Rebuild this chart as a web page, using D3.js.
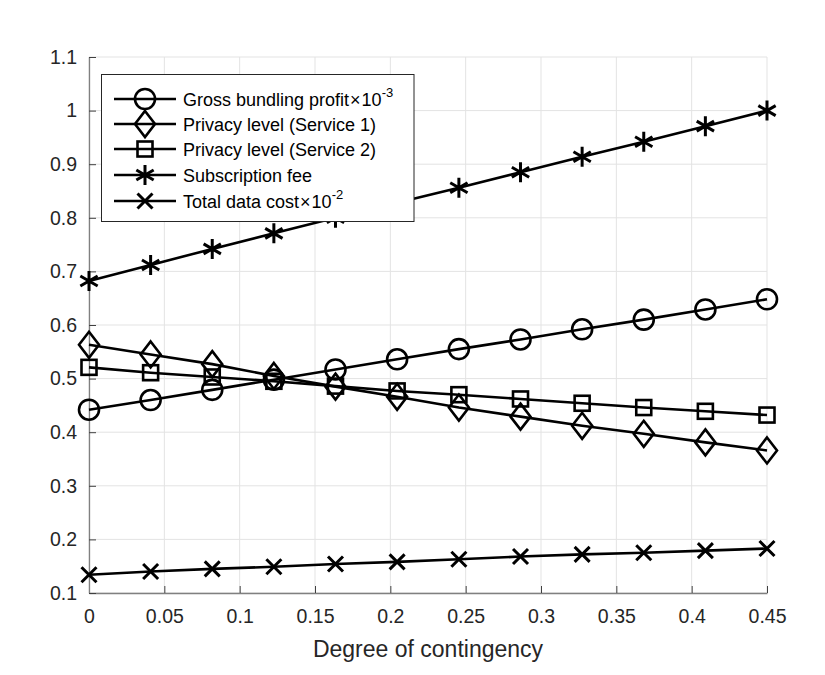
<!DOCTYPE html>
<html><head><meta charset="utf-8">
<script src="https://cdn.jsdelivr.net/npm/d3@7"></script>
<style>body{margin:0;background:#fff;} svg{display:block;font-family:"Liberation Sans",Arial,Helvetica,sans-serif;}</style>
</head><body>
<div id="chart"></div>
<script>
const xValues = [0, 0.0409, 0.0818, 0.1227, 0.1636, 0.2045, 0.2455, 0.2864, 0.3273, 0.3682, 0.4091, 0.45];
const grossProfit = [0.442, 0.460, 0.479, 0.498, 0.517, 0.536, 0.555, 0.573, 0.592, 0.610, 0.629, 0.648];
const privacy1 = [0.563, 0.545, 0.527, 0.505, 0.485, 0.466, 0.446, 0.429, 0.412, 0.397, 0.381, 0.366];
const privacy2 = [0.521, 0.511, 0.503, 0.495, 0.486, 0.477, 0.470, 0.462, 0.454, 0.446, 0.439, 0.432];
const subscriptionFee = [0.682, 0.712, 0.742, 0.771, 0.800, 0.828, 0.856, 0.885, 0.914, 0.942, 0.971, 1.0];
const totalDataCost = [0.134, 0.140, 0.145, 0.149, 0.154, 0.158, 0.163, 0.168, 0.172, 0.175, 0.179, 0.183];
const xTicks = [0, 0.05, 0.1, 0.15, 0.2, 0.25, 0.3, 0.35, 0.4, 0.45];
const yTicks = [0.1, 0.2, 0.3, 0.4, 0.5, 0.6, 0.7, 0.8, 0.9, 1.0, 1.1];
const seriesNames = ["Gross bundling profit", "Privacy level (Service 1)", "Privacy level (Service 2)", "Subscription fee", "Total data cost"];
const seriesExp = ["-3", null, null, null, "-2"];
const seriesMarkers = ["circle", "diamond", "square", "asterisk", "cross"];
const xLabel = "Degree of contingency";

const W = 825, H = 675;
const m = {left: 89, right: 825 - 767, top: 57, bottom: 675 - 593};
const svg = d3.select("#chart").append("svg").attr("width", W).attr("height", H);
const x = d3.scaleLinear().domain([0, 0.45]).range([m.left, W - m.right]);
const y = d3.scaleLinear().domain([0.1, 1.1]).range([H - m.bottom, m.top]);

// grid
const g = svg.append("g");
g.selectAll("line.vg").data(xTicks).join("line")
  .attr("x1", d => x(d)).attr("x2", d => x(d)).attr("y1", y(0.1)).attr("y2", y(1.1))
  .attr("stroke", "#e3e3e3").attr("stroke-width", 1);
g.selectAll("line.hg").data(yTicks).join("line")
  .attr("y1", d => y(d)).attr("y2", d => y(d)).attr("x1", x(0)).attr("x2", x(0.45))
  .attr("stroke", "#e3e3e3").attr("stroke-width", 1);

// axes
const fmt = d => d3.format("")(+d.toFixed(2));
const xAxis = svg.append("g").attr("transform", `translate(0,${y(0.1)})`)
  .call(d3.axisBottom(x).tickValues(xTicks).tickSizeInner(-7).tickSizeOuter(0).tickPadding(16).tickFormat(fmt));
const yAxis = svg.append("g").attr("transform", `translate(${x(0)},0)`)
  .call(d3.axisLeft(y).tickValues(yTicks).tickSizeInner(-7).tickSizeOuter(0).tickPadding(12).tickFormat(fmt));
[xAxis, yAxis].forEach(a => {
  a.attr("font-size", null).attr("font-family", null);
  a.select(".domain").attr("stroke", "#808080").attr("stroke-width", 1.3);
  a.selectAll(".tick line").attr("stroke", "#404040").attr("stroke-width", 1);
  a.selectAll(".tick text").attr("fill", "#262626").style("font-size", "19.5px")
   .style("font-family", '"Liberation Sans",Arial,sans-serif');
});

svg.append("text").attr("x", (x(0) + x(0.45)) / 2).attr("y", 657)
  .attr("text-anchor", "middle").attr("fill", "#262626").style("font-size", "23px").text(xLabel);

// markers
function drawMarker(sel, type) {
  const sw = 2.6;
  if (type === "circle") sel.append("circle").attr("r", 10).attr("fill", "none").attr("stroke", "#000").attr("stroke-width", sw);
  else if (type === "diamond") sel.append("path").attr("d", "M0,-13L10,0L0,13L-10,0Z").attr("fill", "none").attr("stroke", "#000").attr("stroke-width", sw);
  else if (type === "square") sel.append("rect").attr("x", -7.5).attr("y", -7.5).attr("width", 15).attr("height", 15).attr("fill", "none").attr("stroke", "#000").attr("stroke-width", sw);
  else if (type === "asterisk") {
    const r = 10, p = [];
    p.push("M0,-" + r + "L0," + r);
    p.push(`M${-r*0.866},${-r*0.5}L${r*0.866},${r*0.5}`);
    p.push(`M${-r*0.866},${r*0.5}L${r*0.866},${-r*0.5}`);
    sel.append("path").attr("d", p.join("")).attr("stroke", "#000").attr("stroke-width", 3).attr("fill", "none");
  } else if (type === "cross") {
    const r = 7.5;
    sel.append("path").attr("d", `M${-r},${-r}L${r},${r}M${-r},${r}L${r},${-r}`).attr("stroke", "#000").attr("stroke-width", 3).attr("fill", "none");
  }
}

const allSeries = [grossProfit, privacy1, privacy2, subscriptionFee, totalDataCost];
const line = d3.line().x((d, i) => x(xValues[i])).y(d => y(d));
allSeries.forEach((vals, si) => {
  const sg = svg.append("g");
  sg.append("path").datum(vals).attr("d", line).attr("fill", "none").attr("stroke", "#000").attr("stroke-width", 2.6);
  vals.forEach((v, i) => {
    const mg = sg.append("g").attr("transform", `translate(${x(xValues[i])},${y(v)})`);
    drawMarker(mg, seriesMarkers[si]);
  });
});

// legend
const lg = svg.append("g");
lg.append("rect").attr("x", 101.5).attr("y", 74.5).attr("width", 312.5).attr("height", 147)
  .attr("fill", "#fff").attr("stroke", "#262626").attr("stroke-width", 1);
const rowY = [99, 124, 149, 175, 201];
seriesNames.forEach((name, i) => {
  const ry = rowY[i];
  lg.append("line").attr("x1", 114).attr("x2", 176).attr("y1", ry).attr("y2", ry).attr("stroke", "#000").attr("stroke-width", 2.6);
  drawMarker(lg.append("g").attr("transform", `translate(145,${ry})`), seriesMarkers[i]);
  const t = lg.append("text").attr("x", 183).attr("y", ry + 6.5).attr("fill", "#000").style("font-size", "18px");
  t.append("tspan").text(name);
  if (seriesExp[i]) {
    t.append("tspan").attr("dx", 1).text("\u00d7");
    t.append("tspan").attr("dx", 1).text("10");
    t.append("tspan").attr("dy", -9).style("font-size", "13px").text(seriesExp[i]);
  }
});
</script>
</body></html>
